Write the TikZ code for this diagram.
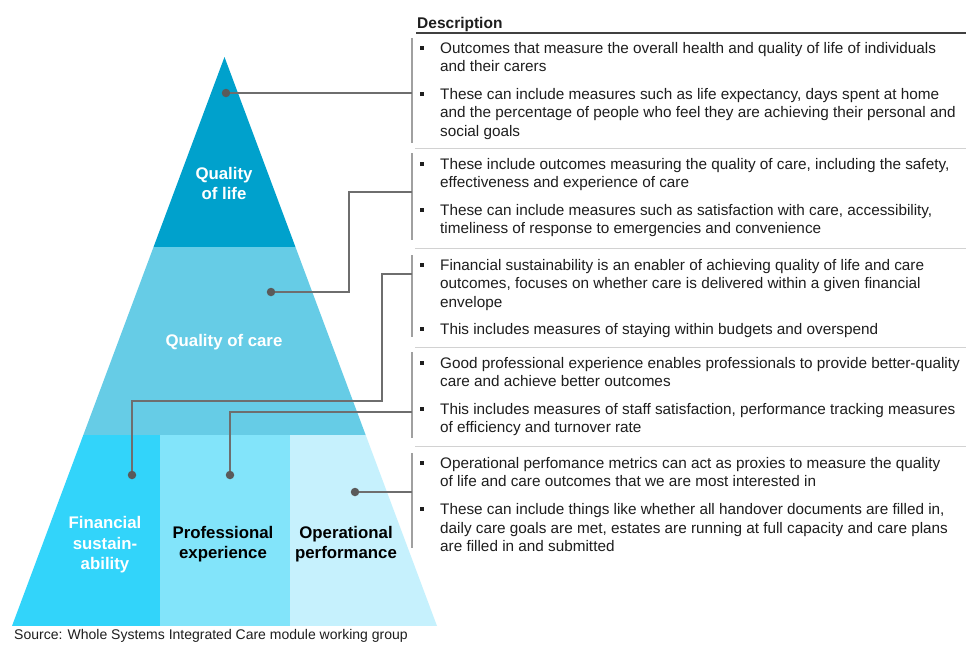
\documentclass[tikz,border=0pt]{standalone}
\usepackage{fontspec}
\setmainfont{Liberation Sans}
\usetikzlibrary{calc}
\definecolor{qol}{RGB}{0,161,204}
\definecolor{qoc}{RGB}{102,204,230}
\definecolor{fin}{RGB}{50,212,250}
\definecolor{pro}{RGB}{130,228,250}
\definecolor{ope}{RGB}{198,241,253}
\definecolor{dotc}{RGB}{90,90,90}
\definecolor{connc}{RGB}{110,110,110}
\definecolor{brkc}{RGB}{160,160,160}
\definecolor{sepc}{RGB}{210,210,210}
\definecolor{txt}{RGB}{30,30,30}
\tikzset{
  dot/.style={circle, fill=dotc, inner sep=0pt, minimum size=8.5pt},
  conn/.style={draw=connc, line width=1.3pt},
  brk/.style={draw=brkc, line width=1.5pt},
  sepline/.style={draw=sepc, line width=1pt},
  desc/.style={anchor=north west, inner sep=0pt, align=left, text=txt,
    font=\fontsize{15.3}{18.7}\selectfont},
  bul/.style={fill=txt, inner sep=0pt, minimum size=4pt},
  plabw/.style={text=white, align=center, inner sep=0pt,
    font=\fontsize{16.8}{20.5}\selectfont\bfseries},
  plabb/.style={text=black, align=center, inner sep=0pt,
    font=\fontsize{16.8}{20}\selectfont\bfseries},
}
\newcommand{\bitem}[3]{%
  \node[bul] (#1b) at (422,#2) {};
  \node[desc] (#1) at (440,{#2-8}) {\strut #3};
}
\begin{document}
\begin{tikzpicture}[x=1pt,y=-1pt]
\useasboundingbox (0,0) rectangle (966,646);
\fill[white] (0,0) rectangle (966,646);

% pyramid
\coordinate (apex) at (224.5,57);
\coordinate (bl) at (12,626);
\coordinate (br) at (437,626);
\begin{scope}
  \clip (apex) -- (bl) -- (br) -- cycle;
  \fill[qol] (0,0) rectangle (966,247);
  \fill[qoc] (0,247) rectangle (966,435);
  \fill[fin] (0,435) rectangle (160,626);
  \fill[pro] (160,435) rectangle (290,626);
  \fill[ope] (290,435) rectangle (966,626);
\end{scope}

\node[plabw] (lqol) at (224,183.5) {Quality\\of life};
\node[plabw] (lqoc) at (224,342) {Quality of care};
\node[plabw] (lfin) at (105,545) {Financial\\sustain-\\ability};
\node[plabb] (lpro) at (223,544.5) {Professional\\experience};
\node[plabb] (lope) at (346,544.5) {Operational\\performance};

% header
\node[anchor=base west, inner sep=0pt, text=txt, font=\fontsize{15.5}{18}\selectfont\bfseries] (hdr) at (417,28) {Description};
\draw[draw=black!75, line width=1.5pt] (416,33) -- (966,33);

% brackets and separators
\draw[brk] (412,38) -- (412,143);
\draw[brk] (412,153) -- (412,240);
\draw[brk] (412,255) -- (412,337);
\draw[brk] (412,352) -- (412,438);
\draw[brk] (412,453) -- (412,548);
\draw[sepline] (415,148) -- (966,148);
\draw[sepline] (415,248) -- (966,248);
\draw[sepline] (415,347) -- (966,347);
\draw[sepline] (415,446) -- (966,446);

% descriptions
\bitem{t1a}{48}{Outcomes that measure the overall health and quality of life of individuals\\and their carers}
\bitem{t1b}{94}{These can include measures such as life expectancy, days spent at home\\and the percentage of people who feel they are achieving their personal and\\social goals}
\bitem{t2a}{164}{These include outcomes measuring the quality of care, including the safety,\\effectiveness and experience of care}
\bitem{t2b}{210}{These can include measures such as satisfaction with care, accessibility,\\timeliness of response to emergencies and convenience}
\bitem{t3a}{265}{Financial sustainability is an enabler of achieving quality of life and care\\outcomes, focuses on whether care is delivered within a given financial\\envelope}
\bitem{t3b}{329}{This includes measures of staying within budgets and overspend}
\bitem{t4a}{363}{Good professional experience enables professionals to provide better-quality\\care and achieve better outcomes}
\bitem{t4b}{409}{This includes measures of staff satisfaction, performance tracking measures\\of efficiency and turnover rate}
\bitem{t5a}{463}{Operational perfomance metrics can act as proxies to measure the quality\\of life and care outcomes that we are most interested in}
\bitem{t5b}{509}{These can include things like whether all handover documents are filled in,\\daily care goals are met, estates are running at full capacity and care plans\\are filled in and submitted}

% dots and connectors
\node[dot] (d1) at (226,93) {};
\node[dot] (d2) at (271,292) {};
\node[dot] (d3) at (132,475) {};
\node[dot] (d4) at (230,475) {};
\node[dot] (d5) at (355,492) {};
\coordinate (b1) at (412,93);
\coordinate (b2) at (412,192);
\coordinate (k2) at (349,192);
\coordinate (b3) at (412,274);
\coordinate (k3) at (382,401);
\coordinate (b4) at (412,412);
\coordinate (b5) at (412,492);
\draw[conn] (d1) -- (b1);
\draw[conn] (d2) -| (k2) -- (b2);
\draw[conn] (d3) |- (k3) |- (b3);
\draw[conn] (d4) |- (b4);
\draw[conn] (d5) -- (b5);

% source
\node[anchor=base west, inner sep=0pt, text=txt, font=\fontsize{14}{16}\selectfont] (src) at (14,639) {Source: Whole Systems Integrated Care module working group};
\end{tikzpicture}
\end{document}
